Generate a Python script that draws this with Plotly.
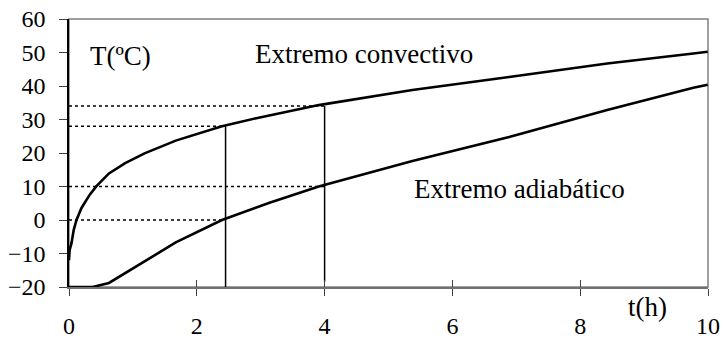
import plotly.graph_objects as go

# ---- data ----
conv_t = [0, 0.01, 0.04, 0.075, 0.12, 0.2, 0.33, 0.44, 0.64, 0.9, 1.21, 1.71, 2.45, 3.0, 4.0, 5.5, 7.05, 8.62, 10.0, 10.23]
conv_T = [-12, -9, -6.9, -3, 0, 3.6, 7.5, 10.1, 13.9, 17.0, 19.9, 23.7, 28.0, 30.4, 34.3, 38.8, 42.7, 46.7, 49.7, 50.2]

adia_t = [0, 0.38, 0.64, 0.9, 1.21, 1.71, 2.45, 3.2, 4.0, 5.5, 7.05, 8.62, 10.0, 10.23]
adia_T = [-20, -20, -18.8, -15.9, -12.4, -6.7, 0, 5.1, 10, 17.6, 24.8, 32.8, 39.5, 40.4]

# guide lines
hline_y = [34, 28, 10, 0]
hline_xend = [4, 2.45, 4, 2.45]
vline_x = [2.45, 4]
vline_ybot = [-20, -18.4]
vline_ytop = [28, 34]

x_ticks = [0, 2, 4, 6, 8, 10]
y_ticks = [-20, -10, 0, 10, 20, 30, 40, 50, 60]
y_range = [-20, 60]

labels = ["T(ºC)", "Extremo convectivo", "Extremo adiabático", "t(h)"]
label_x = [0.8, 4.62, 7.05, 9.05]
label_y = [49.0, 49.6, 9.3, -25.9]

FONT = "Liberation Serif"
W, H = 723, 340
L, R, T, B = 69, 0, 19, 53
D = (708 - L) / (W - L - R)  # fraction of width used by main x axis

fig = go.Figure()

# horizontal dotted guides
for y, xe in zip(hline_y, hline_xend):
    fig.add_trace(go.Scatter(x=[0, xe], y=[y, y], mode="lines",
                             line=dict(color="black", width=1.5, dash="dot"),
                             hoverinfo="skip", showlegend=False))
# vertical guides
for x, yb, yt in zip(vline_x, vline_ybot, vline_ytop):
    fig.add_trace(go.Scatter(x=[x, x], y=[yb, yt], mode="lines",
                             line=dict(color="black", width=1.5),
                             hoverinfo="skip", showlegend=False))

# curves on an extended axis so they can run past the frame like the original
fig.add_trace(go.Scatter(x=conv_t, y=conv_T, mode="lines", xaxis="x2",
                         line=dict(color="black", width=2.6), showlegend=False))
fig.add_trace(go.Scatter(x=adia_t, y=adia_T, mode="lines", xaxis="x2",
                         line=dict(color="black", width=2.6), showlegend=False))
# invisible trace for inside-tick axis
fig.add_trace(go.Scatter(x=[0, 10], y=[-20, -20], mode="lines", xaxis="x3",
                         line=dict(color="rgba(0,0,0,0)"), hoverinfo="skip", showlegend=False))

# text labels; y given in data units, placed via the y-axis domain so that
# labels below the axis range (t(h)) are still drawn
for txt, x, y in zip(labels, label_x, label_y):
    y_dom = (y - y_range[0]) / (y_range[1] - y_range[0])
    fig.add_annotation(x=x, y=y_dom, xref="x", yref="y domain", text=txt, showarrow=False,
                       font=dict(family=FONT, size=27, color="black"),
                       xanchor="center", yanchor="middle")

# gray plot-area frame
fig.add_shape(type="rect", xref="x domain", yref="y domain", x0=0, x1=1, y0=0, y1=1,
              line=dict(color="#808080", width=1.5), layer="below")

fig.update_layout(
    width=W, height=H,
    margin=dict(l=L, r=R, t=T, b=B, pad=0),
    paper_bgcolor="white", plot_bgcolor="white",
    font=dict(family=FONT, size=24, color="black"),
    xaxis=dict(domain=[0, D], range=[0, 10], tickvals=x_ticks, ticks="outside", ticklen=7,
               tickwidth=1.3, tickcolor="#404040", showgrid=False, zeroline=False,
               showline=True, linecolor="#707070", linewidth=1.5, automargin=False,
               ticklabelstandoff=9, ticklabeloverflow="allow",
               tickfont=dict(family=FONT, size=24)),
    xaxis2=dict(domain=[0, 1], range=[0, 10 / D], anchor="y", overlaying="x",
                visible=False, automargin=False),
    xaxis3=dict(domain=[0, D], range=[0, 10], anchor="y", overlaying="x",
                tickvals=x_ticks, ticks="inside", ticklen=7, tickwidth=1.3,
                tickcolor="#404040", showticklabels=False, showgrid=False,
                zeroline=False, showline=False, automargin=False),
    yaxis=dict(range=y_range, tickvals=y_ticks, ticks="outside", ticklen=8,
               tickwidth=1.3, tickcolor="#404040", showgrid=False, zeroline=False,
               showline=True, linecolor="black", linewidth=1.5, automargin=False,
               ticklabelstandoff=9, ticklabeloverflow="allow",
               tickfont=dict(family=FONT, size=24)),
)

# remove the browser's default page margin so the figure fills the window exactly
fig.write_html("out.html",
               config={"displayModeBar": False},
               post_script="document.body.style.margin='0';document.body.style.overflow='hidden';")
